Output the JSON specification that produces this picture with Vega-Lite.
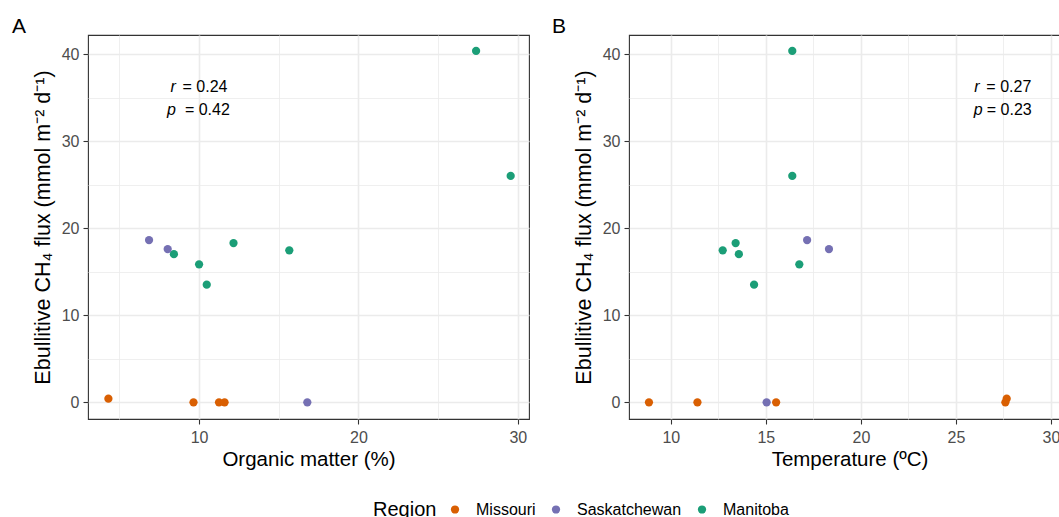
{
  "$schema": "https://vega.github.io/schema/vega-lite/v6.json",
  "padding": {"left": 11, "top": 15, "right": 0, "bottom": 0},
  "bounds": "flush",
  "spacing": 100,
  "background": "white",
  "datasets": {
    "pts": [
      {"region": "Manitoba", "om": 27.38, "temp": 16.39, "flux": 40.39},
      {"region": "Manitoba", "om": 29.55, "temp": 16.39, "flux": 26.02},
      {"region": "Manitoba", "om": 12.16, "temp": 13.41, "flux": 18.3},
      {"region": "Manitoba", "om": 15.66, "temp": 12.73, "flux": 17.47},
      {"region": "Manitoba", "om": 8.42, "temp": 13.58, "flux": 17.03},
      {"region": "Manitoba", "om": 10.0, "temp": 16.76, "flux": 15.86},
      {"region": "Manitoba", "om": 10.48, "temp": 14.38, "flux": 13.52},
      {"region": "Saskatchewan", "om": 6.86, "temp": 17.17, "flux": 18.65},
      {"region": "Saskatchewan", "om": 8.03, "temp": 18.32, "flux": 17.61},
      {"region": "Saskatchewan", "om": 16.79, "temp": 15.04, "flux": 0},
      {"region": "Missouri", "om": 4.31, "temp": 27.67, "flux": 0.42},
      {"region": "Missouri", "om": 9.65, "temp": 8.85, "flux": 0},
      {"region": "Missouri", "om": 11.25, "temp": 11.4, "flux": 0},
      {"region": "Missouri", "om": 11.6, "temp": 15.54, "flux": 0},
      {"region": "Missouri", "om": null, "temp": 27.6, "flux": 0}
    ],
    "annA": [
      {"x": 8.21, "y": 35.72, "t": "r", "it": true},
      {"x": 8.96, "y": 35.72, "t": "= 0.24", "it": false},
      {"x": 7.99, "y": 33.07, "t": "p", "it": true},
      {"x": 9.11, "y": 33.07, "t": "= 0.42", "it": false}
    ],
    "annB": [
      {"x": 25.96, "y": 35.72, "t": "r", "it": true},
      {"x": 26.6, "y": 35.72, "t": "= 0.27", "it": false},
      {"x": 25.93, "y": 33.07, "t": "p", "it": true},
      {"x": 26.62, "y": 33.07, "t": "= 0.23", "it": false}
    ]
  },
  "config": {
    "font": "Liberation Sans",
    "view": {"stroke": "#333333", "strokeWidth": 1.1},
    "axis": {
      "labelFont": "Liberation Sans",
      "labelFontSize": 16,
      "labelColor": "#4D4D4D",
      "titleFont": "Liberation Sans",
      "titleFontSize": 20.5,
      "titleFontWeight": "normal",
      "titleColor": "#000000",
      "tickColor": "#333333",
      "tickSize": 5,
      "tickWidth": 1.1,
      "domain": false,
      "gridColor": "#EBEBEB",
      "labelFlush": false,
      "labelOverlap": false
    },
    "title": {"font": "Liberation Sans", "fontWeight": "normal", "color": "#000000", "fontSize": 21}
  },
  "resolve": {"scale": {"color": "shared"}, "legend": {"color": "shared"}},
  "hconcat": [
    {
      "width": 441,
      "height": 384,
      "title": {"text": "A", "anchor": "start", "frame": "group", "dx": -76, "baseline": "alphabetic", "offset": -19},
      "layer": [
        {
          "data": {"name": "pts"},
          "transform": [{"filter": "datum.om != null"}],
          "mark": {"type": "point", "filled": true, "size": 68, "opacity": 1, "strokeWidth": 0},
          "encoding": {
            "x": {
              "field": "om", "type": "quantitative",
              "scale": {"domain": [3.03, 30.7], "nice": false, "zero": false},
              "axis": {
                "title": "Organic matter (%)",
                "values": [5, 10, 15, 20, 25, 30],
                "labelExpr": "datum.value % 10 === 0 ? datum.label : ''",
                "tickOpacity": {"condition": {"test": "datum.value % 10 === 0", "value": 1}, "value": 0},
                "gridWidth": {"condition": {"test": "datum.value % 10 === 0", "value": 1.6}, "value": 0.8},
                "labelPadding": 5,
                "titlePadding": 4
              }
            },
            "y": {
              "field": "flux", "type": "quantitative",
              "scale": {"domain": [-1.92, 42.22], "nice": false, "zero": false},
              "axis": {
                "title": "Ebullitive CH₄ flux (mmol m⁻² d⁻¹)",
                "titleFontSize": 21.5,
                "values": [0, 5, 10, 15, 20, 25, 30, 35, 40],
                "labelExpr": "datum.value % 10 === 0 ? datum.label : ''",
                "tickOpacity": {"condition": {"test": "datum.value % 10 === 0", "value": 1}, "value": 0},
                "gridWidth": {"condition": {"test": "datum.value % 10 === 0", "value": 1.6}, "value": 0.8},
                "labelPadding": 4,
                "titlePadding": 7
              }
            },
            "color": {
              "field": "region", "type": "nominal",
              "scale": {"domain": ["Missouri", "Saskatchewan", "Manitoba"], "range": ["#D95F02", "#7570B3", "#1B9E77"]},
              "legend": {
                "title": "Region",
                "orient": "none",
                "legendX": 285,
                "legendY": 466.5,
                "direction": "horizontal",
                "titleOrient": "left",
                "titleFontSize": 20,
                "titleFontWeight": "normal",
                "titleColor": "#000000",
                "titleFont": "Liberation Sans",
                "labelFont": "Liberation Sans",
                "labelFontSize": 16,
                "labelColor": "#000000",
                "symbolType": "circle",
                "symbolSize": 68,
                "symbolStrokeWidth": 0,
                "symbolOpacity": 1,
                "labelOffset": 13,
                "columnPadding": 12,
                "titlePadding": 10
              }
            }
          }
        },
        {
          "data": {"name": "annA"},
          "transform": [{"filter": "datum.it"}],
          "mark": {"type": "text", "fontStyle": "italic", "fontSize": 16, "align": "left", "baseline": "alphabetic", "color": "#000000"},
          "encoding": {
            "x": {"field": "x", "type": "quantitative"},
            "y": {"field": "y", "type": "quantitative"},
            "text": {"field": "t"}
          }
        },
        {
          "data": {"name": "annA"},
          "transform": [{"filter": "!datum.it"}],
          "mark": {"type": "text", "fontSize": 16, "align": "left", "baseline": "alphabetic", "color": "#000000"},
          "encoding": {
            "x": {"field": "x", "type": "quantitative"},
            "y": {"field": "y", "type": "quantitative"},
            "text": {"field": "t"}
          }
        }
      ]
    },
    {
      "width": 441,
      "height": 384,
      "title": {"text": "B", "anchor": "start", "frame": "group", "dx": -77, "baseline": "alphabetic", "offset": -19},
      "layer": [
        {
          "data": {"name": "pts"},
          "mark": {"type": "point", "filled": true, "size": 68, "opacity": 1, "strokeWidth": 0},
          "encoding": {
            "x": {
              "field": "temp", "type": "quantitative",
              "scale": {"domain": [7.8, 31.0], "nice": false, "zero": false},
              "axis": {
                "title": "Temperature (ºC)",
                "values": [7.5, 10, 12.5, 15, 17.5, 20, 22.5, 25, 27.5, 30],
                "labelExpr": "datum.value % 5 === 0 ? datum.label : ''",
                "tickOpacity": {"condition": {"test": "datum.value % 5 === 0", "value": 1}, "value": 0},
                "gridWidth": {"condition": {"test": "datum.value % 5 === 0", "value": 1.6}, "value": 0.8},
                "labelPadding": 5,
                "titlePadding": 4
              }
            },
            "y": {
              "field": "flux", "type": "quantitative",
              "scale": {"domain": [-1.92, 42.22], "nice": false, "zero": false},
              "axis": {
                "title": "Ebullitive CH₄ flux (mmol m⁻² d⁻¹)",
                "titleFontSize": 21.5,
                "values": [0, 5, 10, 15, 20, 25, 30, 35, 40],
                "labelExpr": "datum.value % 10 === 0 ? datum.label : ''",
                "tickOpacity": {"condition": {"test": "datum.value % 10 === 0", "value": 1}, "value": 0},
                "gridWidth": {"condition": {"test": "datum.value % 10 === 0", "value": 1.6}, "value": 0.8},
                "labelPadding": 4,
                "titlePadding": 7
              }
            },
            "color": {
              "field": "region", "type": "nominal",
              "scale": {"domain": ["Missouri", "Saskatchewan", "Manitoba"], "range": ["#D95F02", "#7570B3", "#1B9E77"]}
            }
          }
        },
        {
          "data": {"name": "annB"},
          "transform": [{"filter": "datum.it"}],
          "mark": {"type": "text", "fontStyle": "italic", "fontSize": 16, "align": "left", "baseline": "alphabetic", "color": "#000000"},
          "encoding": {
            "x": {"field": "x", "type": "quantitative"},
            "y": {"field": "y", "type": "quantitative"},
            "text": {"field": "t"}
          }
        },
        {
          "data": {"name": "annB"},
          "transform": [{"filter": "!datum.it"}],
          "mark": {"type": "text", "fontSize": 16, "align": "left", "baseline": "alphabetic", "color": "#000000"},
          "encoding": {
            "x": {"field": "x", "type": "quantitative"},
            "y": {"field": "y", "type": "quantitative"},
            "text": {"field": "t"}
          }
        }
      ]
    }
  ]
}
